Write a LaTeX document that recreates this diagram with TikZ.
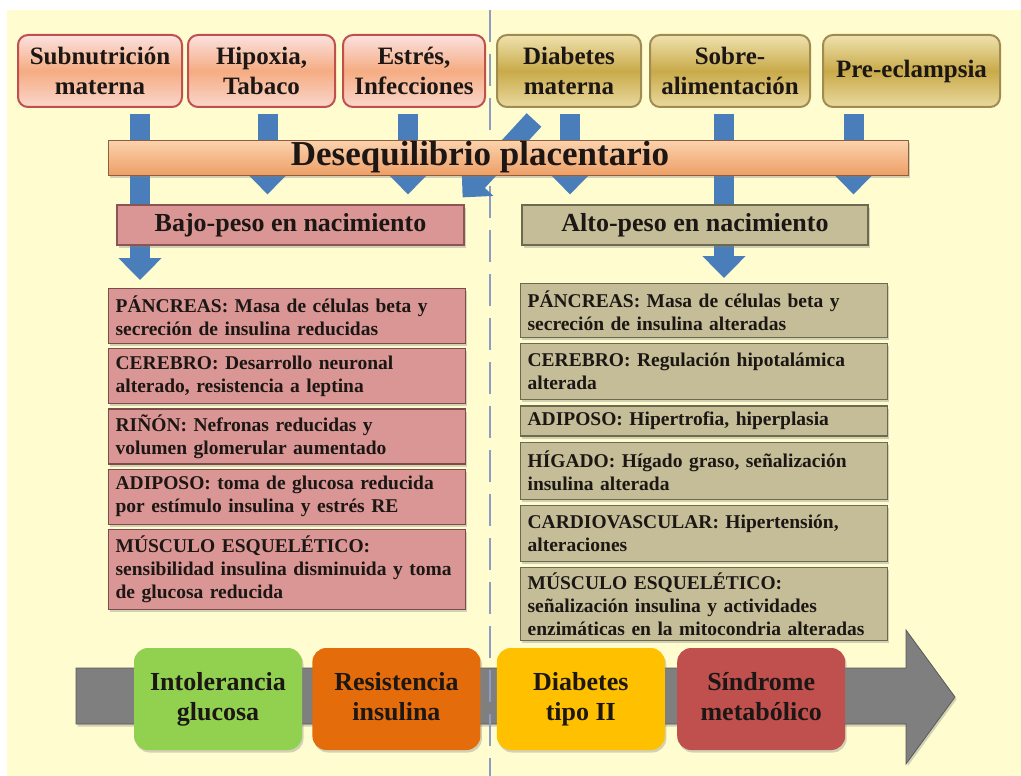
\documentclass[tikz,border=0pt]{standalone}
\usepackage{fontspec}
\setmainfont{Liberation Serif}
\usetikzlibrary{positioning,shadows,arrows.meta}

\definecolor{cream}{HTML}{FFFDCF}
\definecolor{dashblue}{HTML}{8E9BC4}
\definecolor{arrowblue}{HTML}{4A7EBB}
\definecolor{redline}{HTML}{C0504D}
\definecolor{pinklight}{HTML}{FBE1DF}
\definecolor{peach}{HTML}{F5AC82}
\definecolor{goldline}{HTML}{A08C50}
\definecolor{goldlight}{HTML}{EFE2AE}
\definecolor{gold}{HTML}{C9AA4A}
\definecolor{bartop}{HTML}{FBD3AE}
\definecolor{barbottom}{HTML}{EE9F66}
\definecolor{lowpink}{HTML}{D99694}
\definecolor{lowedge}{HTML}{8A5553}
\definecolor{hightan}{HTML}{C4BD97}
\definecolor{highedge}{HTML}{6E6A50}
\definecolor{timegray}{HTML}{7F7F7F}
\definecolor{stagegreen}{HTML}{92D050}
\definecolor{stageorange}{HTML}{E46C0A}
\definecolor{stageyellow}{HTML}{FFC000}
\definecolor{stagered}{HTML}{C0504D}
\definecolor{ink}{HTML}{1C1714}

\pgfdeclarelayer{back}
\pgfdeclarelayer{bg}
\pgfsetlayers{back,bg,main}

\tikzset{
  softshadow/.style={drop shadow={shadow xshift=1.5pt,shadow yshift=-2.5pt,opacity=.35}},
  cause/.style={rounded corners=10pt, line width=2pt, minimum height=72pt,
    align=center, inner sep=2pt, text=ink,
    font=\fontsize{25}{30}\selectfont\bfseries},
  poorcause/.style={cause, draw=redline, top color=pinklight,
    bottom color=pinklight!80!peach, middle color=peach},
  richcause/.style={cause, draw=goldline, top color=goldlight,
    bottom color=goldlight!85!gold, middle color=gold},
  placenta/.style={draw=barbottom!60!black, line width=.8pt, top color=bartop,
    bottom color=barbottom, softshadow},
  bartext/.style={text=ink, font=\fontsize{35}{40}\selectfont\bfseries},
  birth/.style={minimum height=40pt, line width=1.2pt, text=ink, softshadow,
    font=\fontsize{26}{30}\selectfont\bfseries},
  lowbirth/.style={birth, fill=lowpink, draw=lowedge},
  highbirth/.style={birth, fill=hightan, draw=highedge},
  organ/.style={align=left, inner xsep=7pt, inner ysep=4pt, line width=1.2pt,
    text=ink, softshadow, font=\fontsize{19.5}{23}\selectfont\bfseries},
  loworgan/.style={organ, fill=lowpink, draw=lowedge!90!black, text width=343pt},
  highorgan/.style={organ, fill=hightan, draw=highedge, text width=353pt},
  stage/.style={rounded corners=14pt, minimum width=168pt, minimum height=102pt,
    align=center, text=ink, softshadow,
    font=\fontsize{26}{30}\selectfont\bfseries},
  bluearrow/.style={draw=arrowblue, line width=20pt,
    -{Triangle[width=42pt,length=22pt]}}
}

\begin{document}
\begin{tikzpicture}[x=1pt,y=-1pt]
\useasboundingbox (0,0) rectangle (1021,776);

% causes
\node[poorcause, minimum width=164pt] (sub) at (100,71) {Subnutrición\\materna};
\node[poorcause, minimum width=147pt] (hyp) at (261.5,71) {Hipoxia,\\Tabaco};
\node[poorcause, minimum width=142pt] (est) at (414,71) {Estrés,\\Infecciones};
\node[richcause, minimum width=144pt] (dm) at (569,71) {Diabetes\\materna};
\node[richcause, minimum width=160pt] (sob) at (730,71) {Sobre-\\alimentación};
\node[richcause, minimum width=177pt] (pre) at (911.5,71) {Pre-eclampsia};

\node[placenta, minimum width=800pt, minimum height=35pt,
  label={[bartext, xshift=-28pt]center:Desequilibrio placentario}] (bar) at (508,157.5) {};

\node[lowbirth, minimum width=347pt] (bajo) at (290.5,225) {Bajo-peso en nacimiento};
\node[highbirth, minimum width=346pt] (alto) at (695,225) {Alto-peso en nacimiento};

% organos, bajo peso
\node[loworgan, anchor=north west, minimum height=55pt] (lp1) at (108,288)
  {PÁNCREAS: Masa de células beta y\\secreción de insulina reducidas};
\node[loworgan, below=4pt of lp1, minimum height=55pt] (lp2)
  {CEREBRO: Desarrollo neuronal\\alterado, resistencia a leptina};
\node[loworgan, below=4pt of lp2, minimum height=55pt] (lp3)
  {RIÑÓN: Nefronas reducidas y\\volumen glomerular aumentado};
\node[loworgan, below=4pt of lp3, minimum height=55pt] (lp4)
  {ADIPOSO: toma de glucosa reducida\\por estímulo insulina y estrés RE};
\node[loworgan, below=4pt of lp4, minimum height=80pt] (lp5)
  {MÚSCULO ESQUELÉTICO:\\sensibilidad insulina disminuida y toma\\de glucosa reducida};

% organos, alto peso
\node[highorgan, anchor=north west, minimum height=54pt] (rp1) at (520,283)
  {PÁNCREAS: Masa de células beta y\\secreción de insulina alteradas};
\node[highorgan, below=5pt of rp1, minimum height=56pt] (rp2)
  {CEREBRO: Regulación hipotalámica\\alterada};
\node[highorgan, below=5pt of rp2, minimum height=30pt] (rp3)
  {ADIPOSO: Hipertrofia, hiperplasia};
\node[highorgan, below=5pt of rp3, minimum height=57pt] (rp4)
  {HÍGADO: Hígado graso, señalización\\insulina alterada};
\node[highorgan, below=5pt of rp4, minimum height=56pt] (rp5)
  {CARDIOVASCULAR: Hipertensión,\\alteraciones};
\node[highorgan, below=5pt of rp5, minimum height=73pt] (rp6)
  {MÚSCULO ESQUELÉTICO:\\señalización insulina y actividades\\enzimáticas en la mitocondria alteradas};

% progresion
\node[stage, fill=stagegreen] (st1) at (218,699) {\strut Intolerancia\\glucosa\strut};
\node[stage, fill=stageorange, right=10pt of st1] (st2) {\strut Resistencia\\insulina\strut};
\node[stage, fill=stageyellow, right=16pt of st2] (st3) {\strut Diabetes\\tipo II\strut};
\node[stage, fill=stagered, right=12pt of st3] (st4) {\strut Síndrome\\metabólico\strut};

\begin{pgfonlayer}{back}
  \fill[cream] (7,10) rectangle (1021,776);
\end{pgfonlayer}

\begin{pgfonlayer}{bg}
  \filldraw[fill=timegray, draw=timegray!70!black, line width=.8pt, softshadow]
    (76,668) -- (906,668) -- (906,630) -- (955,697) -- (906,764)
    -- (906,724) -- (76,724) -- cycle;
  \draw[dashblue, line width=1.3pt, dash pattern=on 32pt off 12pt] (490,10) -- (490,776);

  \draw[bluearrow] ([xshift=40pt,yshift=-6pt]sub.south) -- ([xshift=40pt,yshift=8pt]sub.south |- lp1.north);
  \draw[bluearrow] ([xshift=6pt,yshift=-6pt]hyp.south) -- ([xshift=6pt,yshift=10pt]hyp.south |- bajo.north);
  \draw[bluearrow] ([xshift=-6pt,yshift=-6pt]est.south) -- ([xshift=-6pt,yshift=10pt]est.south |- bajo.north);
  \draw[bluearrow] ([xshift=38pt,yshift=-12pt]dm.south west) -- ([xshift=-2pt,yshift=7pt]bajo.north east);
  \draw[bluearrow] ([xshift=1pt,yshift=-6pt]dm.south) -- ([xshift=1pt,yshift=10pt]dm.south |- alto.north);
  \draw[bluearrow] ([xshift=-6pt,yshift=-6pt]sob.south) -- ([xshift=-6pt,yshift=5pt]sob.south |- rp1.north);
  \draw[bluearrow] ([xshift=-58pt,yshift=-6pt]pre.south) -- ([xshift=-58pt,yshift=10pt]pre.south |- alto.north);
\end{pgfonlayer}

\end{tikzpicture}
\end{document}
